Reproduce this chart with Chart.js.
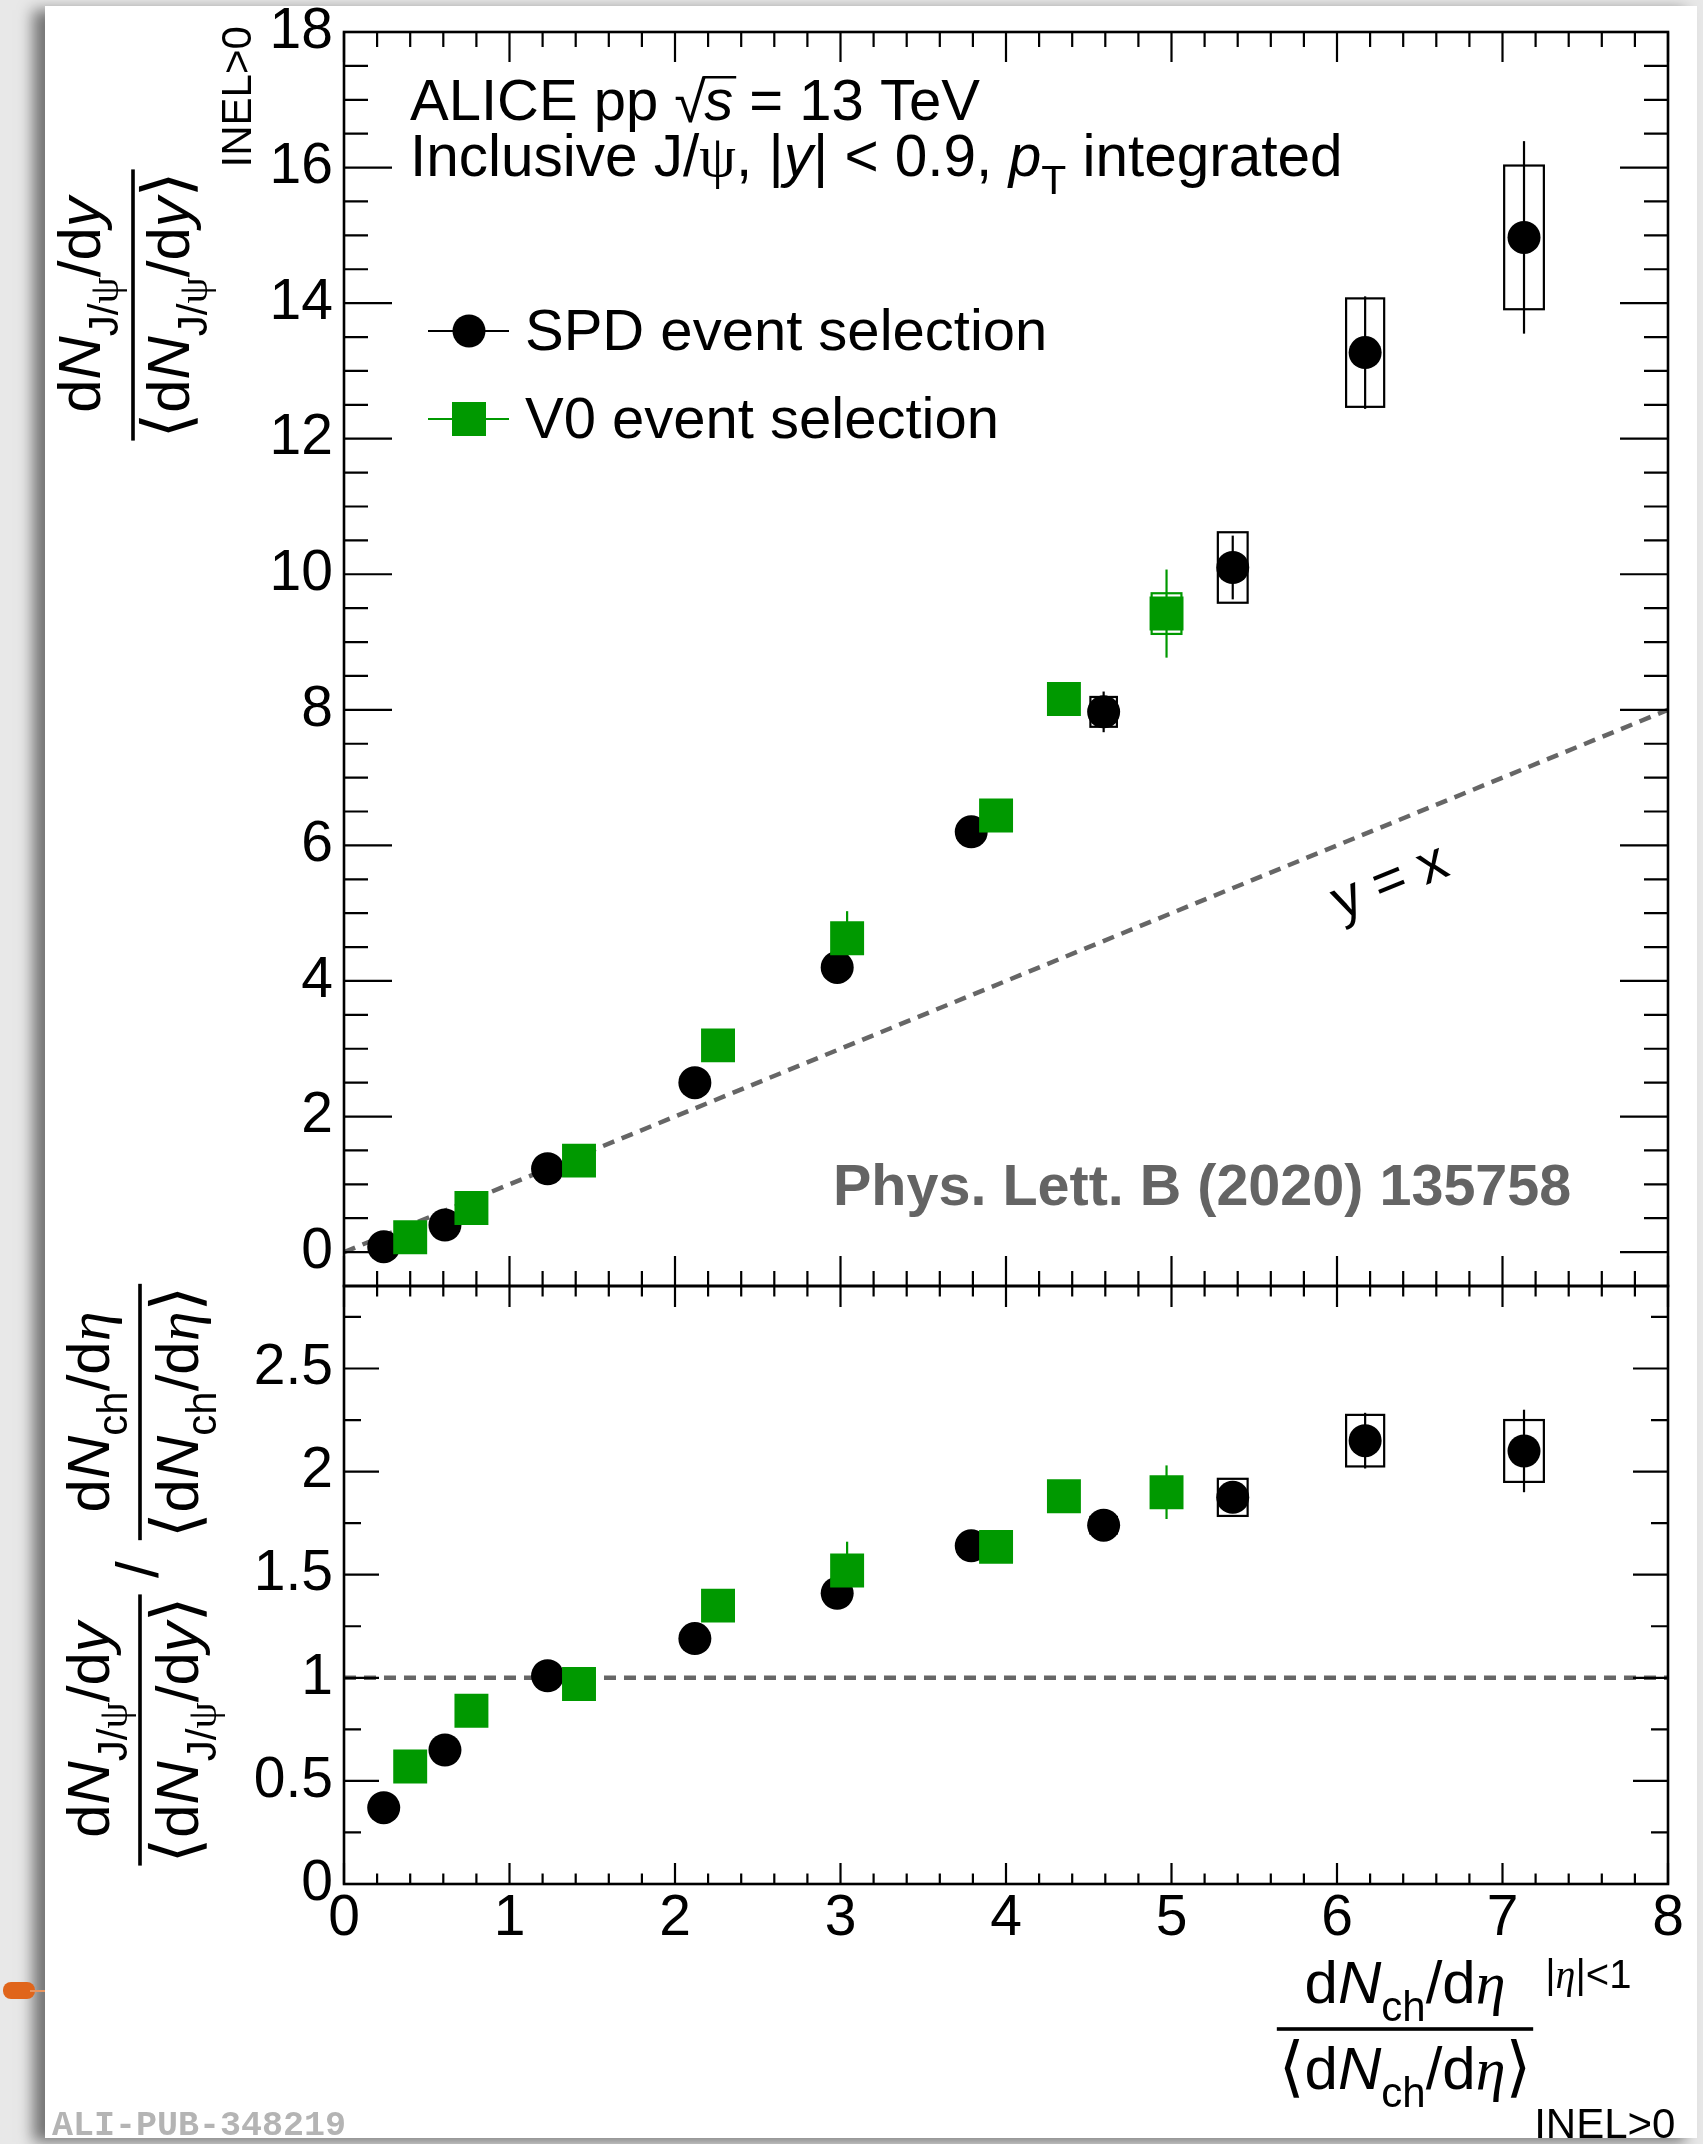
<!DOCTYPE html>
<html>
<head>
<meta charset="utf-8">
<title>ALICE J/psi vs multiplicity</title>
<script src="https://cdn.jsdelivr.net/npm/chart.js@4.4.1/dist/chart.umd.min.js"></script>
<style>
  html, body { margin: 0; padding: 0; }
  body { width: 1703px; height: 2144px; position: relative; overflow: hidden; background: #e8e8e8; }
  #card { position: absolute; left: 45px; top: 6px; width: 1652px; height: 2132px; background: #fff;
          box-shadow: -12px 4px 14px rgba(0,0,0,0.5); }
  #pin { position: absolute; left: 3px; top: 1982px; width: 32px; height: 17px; border-radius: 8px; background: #e0651b; }
  #pinLine { position: absolute; left: 30px; top: 1990px; width: 15px; height: 2px; background: #e9955f; }
  #upperCanvas { position: absolute; left: 0; top: -60px; }
  #lowerCanvas { position: absolute; left: 0; top: 1200px; }
</style>
</head>
<body>
<div id="card"></div>
<div id="pin"></div><div id="pinLine"></div>
<canvas id="upperCanvas" width="1703" height="1406"></canvas>
<canvas id="lowerCanvas" width="1703" height="944"></canvas>
<script>
// --- data ---
// x = (dNch/deta) / <dNch/deta>
const SPD_X = [0.24, 0.61, 1.23, 2.12, 2.98, 3.79, 4.59, 5.37, 6.17, 7.13];
const SPD_Y = [0.08, 0.40, 1.23, 2.50, 4.20, 6.20, 7.97, 10.10, 13.27, 14.97];
const SPD_STAT = [0.02, 0.03, 0.05, 0.08, 0.10, 0.15, 0.30, 0.47, 0.83, 1.42];
const SPD_SYST = [0.01, 0.02, 0.03, 0.05, 0.08, 0.10, 0.22, 0.52, 0.80, 1.06];
const SPD_XW = [0.04, 0.05, 0.06, 0.07, 0.08, 0.08, 0.08, 0.09, 0.115, 0.12];
const SPD_RATIO = [0.37, 0.65, 1.01, 1.19, 1.41, 1.64, 1.74, 1.875, 2.15, 2.10];
const SPD_RATIO_STAT = [0.01, 0.01, 0.02, 0.02, 0.03, 0.04, 0.05, 0.07, 0.135, 0.20];
const SPD_RATIO_SYST = [0.01, 0.01, 0.01, 0.02, 0.03, 0.03, 0.04, 0.09, 0.125, 0.15];

const V0_X = [0.40, 0.77, 1.42, 2.26, 3.04, 3.94, 4.35, 4.97];
const V0_Y = [0.22, 0.65, 1.35, 3.05, 4.63, 6.44, 8.16, 9.42];
const V0_STAT = [0.02, 0.03, 0.06, 0.12, 0.40, 0.15, 0.20, 0.65];
const V0_SYST = [0.01, 0.02, 0.03, 0.06, 0.10, 0.12, 0.20, 0.30];
const V0_XW = [0.05, 0.05, 0.06, 0.07, 0.08, 0.08, 0.09, 0.09];
const V0_RATIO = [0.57, 0.84, 0.97, 1.35, 1.52, 1.635, 1.88, 1.90];
const V0_RATIO_STAT = [0.01, 0.02, 0.02, 0.03, 0.14, 0.03, 0.04, 0.13];
const V0_RATIO_SYST = [0.01, 0.01, 0.01, 0.02, 0.03, 0.03, 0.04, 0.05];

const REF_UP_X = [0, 8];
const REF_UP_Y = [0, 8];
const REF_LOW_X = [0, 8];
const REF_LOW_Y = [1, 1];

const X_TICKS = [0, 1, 2, 3, 4, 5, 6, 7, 8];
const X_LABELS = ['0', '1', '2', '3', '4', '5', '6', '7', '8'];
const Y_UP_TICKS = [0, 2, 4, 6, 8, 10, 12, 14, 16, 18];
const Y_UP_LABELS = ['0', '2', '4', '6', '8', '10', '12', '14', '16', '18'];
const Y_LOW_TICKS = [0, 0.5, 1, 1.5, 2, 2.5];
const Y_LOW_LABELS = ['0', '0.5', '1', '1.5', '2', '2.5'];

const GREEN = '#009900';
const SANS = '"Liberation Sans", Arimo, Arial, sans-serif';
const SERIF = '"Liberation Serif", "DejaVu Serif", serif';
const BRK = '"DejaVu Sans", sans-serif';

const UP_TOP = -60;   // page offset of the upper canvas
const LOW_TOP = 1200; // page offset of the lower canvas
const TITLE = 60;     // axis title size

function pts(xs, ys) { return xs.map((x, i) => ({ x, y: ys[i] })); }

function errs(xs, ys, stat, syst, xw, color) {
    return xs.map((x, i) => ({ x, y: ys[i], stat: stat[i], syst: syst[i], xw: xw[i], color }));
}

// draws a run of styled text pieces, returns width
function runText(ctx, parts, size, x, y, draw) {
    let w = 0;
    for (const p of parts) {
        const s = size * (p.k || 1);
        ctx.font = (p.b ? 'bold ' : '') + (p.i ? 'italic ' : '') + s + 'px ' + (p.f || SANS);
        if (draw) ctx.fillText(p.t, x + w, y + (p.dy || 0) * size);
        w += ctx.measureText(p.t).width + (p.sp || 0) * size;
    }
    return w;
}

function frac(ctx, num, den, size, cx, barY, numBase, denBase) {
    const wn = runText(ctx, num, size, 0, 0, false);
    const wd = runText(ctx, den, size, 0, 0, false);
    const L = Math.max(wn, wd) + 4;
    runText(ctx, num, size, cx - wn / 2, barY + numBase, true);
    runText(ctx, den, size, cx - wd / 2, barY + denBase, true);
    ctx.fillRect(cx - L / 2, barY - 1.8, L, 3.6);
    return L;
}

const SUB = { k: 0.7, dy: 0.3 };
const NUM_JPSI = [{ t: 'd' }, { t: 'N', i: 1 }, { t: 'J/', ...SUB }, { t: 'ψ', ...SUB, f: SERIF }, { t: '/d' }, { t: 'y', i: 1 }];
const DEN_JPSI = [{ t: '⟨', f: BRK, k: 1.1 }, ...NUM_JPSI, { t: '⟩', f: BRK, k: 1.1 }];
const NUM_CH = [{ t: 'd' }, { t: 'N', i: 1 }, { t: 'ch', ...SUB }, { t: '/d' }, { t: 'η', i: 1, f: SERIF }];
const DEN_CH = [{ t: '⟨', f: BRK, k: 1.1 }, ...NUM_CH, { t: '⟩', f: BRK, k: 1.1 }];

// ROOT-like frame with inward ticks on all four sides
const rootFrame = {
    id: 'rootFrame',
    afterDatasetsDraw(chart, args, o) {
        const { ctx, chartArea: a, scales: { x, y } } = chart;
        ctx.save();
        ctx.strokeStyle = '#000';
        ctx.lineWidth = 2.2;
        ctx.beginPath();
        const nx = Math.round((x.max - x.min) / o.xMinor);
        for (let i = 0; i <= nx; i++) {
            const v = x.min + i * o.xMinor;
            const major = Math.abs(v / o.xMajor - Math.round(v / o.xMajor)) < 1e-6;
            const L = major ? o.xMajLen : o.xMinLen;
            const px = x.getPixelForValue(v);
            ctx.moveTo(px, a.bottom); ctx.lineTo(px, a.bottom - L);
            ctx.moveTo(px, a.top); ctx.lineTo(px, a.top + L);
        }
        const y0 = Math.ceil(y.min / o.yMinor - 1e-9);
        const y1 = Math.floor(y.max / o.yMinor + 1e-9);
        for (let i = y0; i <= y1; i++) {
            const v = i * o.yMinor;
            const major = Math.abs(v / o.yMajor - Math.round(v / o.yMajor)) < 1e-6;
            const L = major ? o.yMajLen : o.yMinLen;
            const py = y.getPixelForValue(v);
            ctx.moveTo(a.left, py); ctx.lineTo(a.left + L, py);
            ctx.moveTo(a.right, py); ctx.lineTo(a.right - L, py);
        }
        ctx.stroke();
        ctx.lineWidth = 2.6;
        ctx.strokeRect(a.left, a.top, a.right - a.left, a.bottom - a.top);
        ctx.restore();
    }
};

// syst boxes and stat bars, drawn under the markers
const errorBars = {
    id: 'errorBars',
    beforeDatasetsDraw(chart, args, o) {
        const { ctx, scales: { x, y } } = chart;
        ctx.save();
        for (const p of o.points) {
            const px = x.getPixelForValue(p.x);
            ctx.strokeStyle = p.color;
            ctx.lineWidth = 2.2;
            const bx0 = x.getPixelForValue(p.x - p.xw), bx1 = x.getPixelForValue(p.x + p.xw);
            const by0 = y.getPixelForValue(p.y + p.syst), by1 = y.getPixelForValue(p.y - p.syst);
            ctx.strokeRect(bx0, by0, bx1 - bx0, by1 - by0);
            ctx.beginPath();
            ctx.moveTo(px, y.getPixelForValue(p.y + p.stat));
            ctx.lineTo(px, y.getPixelForValue(p.y - p.stat));
            ctx.stroke();
        }
        ctx.restore();
    }
};

const upperText = {
    id: 'upperText',
    afterDraw(chart) {
        const { ctx, scales: { x, y } } = chart;
        ctx.save();
        ctx.translate(0, -UP_TOP);
        ctx.fillStyle = '#000';
        ctx.strokeStyle = '#000';
        ctx.textBaseline = 'alphabetic';
        ctx.textAlign = 'left';

        // header
        let cx = 410;
        cx += runText(ctx, [{ t: 'ALICE pp ' }], 58, cx, 120, true);
        ctx.font = '58px ' + SANS;
        ctx.fillText('√', cx, 122);
        const m = ctx.measureText('√');
        const topY = 122 - m.actualBoundingBoxAscent;
        cx += m.width - 2;
        const sw = runText(ctx, [{ t: 's', i: 1 }], 58, cx, 120, true);
        ctx.lineWidth = 2.5;
        ctx.beginPath(); ctx.moveTo(cx - 1, topY + 1.2); ctx.lineTo(cx + sw + 3, topY + 1.2); ctx.stroke();
        cx += sw;
        runText(ctx, [{ t: ' = 13 TeV' }], 58, cx, 120, true);

        runText(ctx, [{ t: 'Inclusive J/' }, { t: 'ψ', f: SERIF }, { t: ', |' }, { t: 'y', i: 1 }, { t: '| < 0.9, ' },
            { t: 'p', i: 1 }, { t: 'T', k: 0.7, dy: 0.3 }, { t: ' integrated' }], 58.5, 410, 176, true);

        // legend
        ctx.lineWidth = 2.2;
        ctx.beginPath(); ctx.moveTo(428, 331); ctx.lineTo(509, 331); ctx.stroke();
        ctx.beginPath(); ctx.arc(469, 331, 16.5, 0, Math.PI * 2); ctx.fill();
        ctx.strokeStyle = GREEN; ctx.fillStyle = GREEN;
        ctx.beginPath(); ctx.moveTo(428, 419); ctx.lineTo(509, 419); ctx.stroke();
        ctx.fillRect(469 - 17, 419 - 17, 34, 34);
        ctx.fillStyle = '#000';
        runText(ctx, [{ t: 'SPD event selection' }], 58, 525, 350, true);
        runText(ctx, [{ t: 'V0 event selection' }], 58, 525, 438, true);

        // reference
        ctx.fillStyle = '#646464';
        runText(ctx, [{ t: 'Phys. Lett. B (2020) 135758', b: 1 }], 57.5, 833, 1205, true);

        // y = x label, along the dashed line
        const ang = Math.atan2(y.getPixelForValue(8) - y.getPixelForValue(0), x.getPixelForValue(8) - x.getPixelForValue(0));
        ctx.fillStyle = '#000';
        ctx.save();
        ctx.translate(1390, 883);
        ctx.rotate(ang);
        ctx.textAlign = 'center';
        ctx.textBaseline = 'middle';
        ctx.font = '56px ' + SANS;
        ctx.fillText('y = x', 0, 0);
        ctx.restore();

        // y title (rotated)
        ctx.save();
        ctx.translate(133, 305);
        ctx.rotate(-Math.PI / 2);
        const L = frac(ctx, NUM_JPSI, DEN_JPSI, TITLE, 0, 0, -33, 56);
        runText(ctx, [{ t: 'INEL>0' }], 42, L / 2 + 2, 118, true);
        ctx.restore();
        ctx.restore();
    }
};

const lowerText = {
    id: 'lowerText',
    afterDraw(chart) {
        const { ctx } = chart;
        ctx.save();
        ctx.translate(0, -LOW_TOP);
        ctx.fillStyle = '#000';
        ctx.textAlign = 'left';
        ctx.textBaseline = 'alphabetic';

        // y title: (J/psi ratio) / (Nch ratio)
        ctx.save();
        ctx.translate(140, 1578);
        ctx.rotate(-Math.PI / 2);
        frac(ctx, NUM_JPSI, DEN_JPSI, TITLE, -152, 0, -31, 58);
        runText(ctx, [{ t: '/' }], TITLE, 0, 18, true);
        frac(ctx, NUM_CH, DEN_CH, TITLE, 166, 0, -31, 58);
        ctx.restore();

        // x title
        const L = frac(ctx, NUM_CH, DEN_CH, TITLE, 1405, 2029, -26, 60);
        runText(ctx, [{ t: '|' }, { t: 'η', i: 1, f: SERIF }, { t: '|<1' }], 40, 1405 + L / 2 + 12, 1988, true);
        runText(ctx, [{ t: 'INEL>0' }], 42, 1405 + L / 2 + 1, 2138, true);

        // publication id
        ctx.fillStyle = '#b4b4b4';
        ctx.font = 'bold 35px "Liberation Mono", monospace';
        ctx.fillText('ALI-PUB-348219', 52, 2135);
        ctx.restore();
    }
};

function tickCallback(ticks, labels) {
    return (v) => { const i = ticks.indexOf(v); return i >= 0 ? labels[i] : ''; };
}

const tickFont = { family: SANS, size: 57 };

new Chart(document.getElementById('upperCanvas'), {
    type: 'scatter',
    data: {
        datasets: [
            { label: 'V0 event selection', data: pts(V0_X, V0_Y), order: 0,
              pointStyle: 'rect', pointRadius: 24, backgroundColor: GREEN, borderColor: GREEN, borderWidth: 0 },
            { label: 'SPD event selection', data: pts(SPD_X, SPD_Y), order: 1,
              pointStyle: 'circle', pointRadius: 16.5, backgroundColor: '#000', borderColor: '#000', borderWidth: 0 },
            { type: 'line', label: 'y = x', data: pts(REF_UP_X, REF_UP_Y), order: 2, showLine: true,
              borderColor: '#666666', borderWidth: 4.5, borderDash: [12, 8], pointRadius: 0, fill: false }
        ]
    },
    options: {
        responsive: false, animation: false, devicePixelRatio: 1,
        layout: { padding: { left: 0, right: 35, top: 92, bottom: 60 }, autoPadding: false },
        plugins: {
            legend: { display: false }, tooltip: { enabled: false },
            rootFrame: { xMajor: 1, xMinor: 0.2, xMajLen: 30, xMinLen: 15, yMajor: 2, yMinor: 0.5, yMajLen: 48, yMinLen: 24 },
            errorBars: { points: [...errs(SPD_X, SPD_Y, SPD_STAT, SPD_SYST, SPD_XW, '#000'),
                                  ...errs(V0_X, V0_Y, V0_STAT, V0_SYST, V0_XW, GREEN)] }
        },
        scales: {
            x: { type: 'linear', min: 0, max: 8, display: false },
            y: {
                type: 'linear', min: -0.5, max: 18,
                afterFit: (s) => { s.width = 344; },
                afterBuildTicks: (s) => { s.ticks = Y_UP_TICKS.map(v => ({ value: v })); },
                grid: { display: false, drawTicks: false, tickLength: 0 },
                border: { display: false },
                ticks: { font: tickFont, color: '#000', padding: 11, callback: tickCallback(Y_UP_TICKS, Y_UP_LABELS) }
            }
        }
    },
    plugins: [errorBars, rootFrame, upperText]
});

new Chart(document.getElementById('lowerCanvas'), {
    type: 'scatter',
    data: {
        datasets: [
            { label: 'V0 event selection', data: pts(V0_X, V0_RATIO), order: 0,
              pointStyle: 'rect', pointRadius: 24, backgroundColor: GREEN, borderColor: GREEN, borderWidth: 0 },
            { label: 'SPD event selection', data: pts(SPD_X, SPD_RATIO), order: 1,
              pointStyle: 'circle', pointRadius: 16.5, backgroundColor: '#000', borderColor: '#000', borderWidth: 0 },
            { type: 'line', label: 'unity', data: pts(REF_LOW_X, REF_LOW_Y), order: 2, showLine: true,
              borderColor: '#666666', borderWidth: 4.5, borderDash: [12, 8], pointRadius: 0, fill: false }
        ]
    },
    options: {
        responsive: false, animation: false, devicePixelRatio: 1,
        layout: { padding: { left: 0, right: 35, top: 86, bottom: 160 }, autoPadding: false },
        plugins: {
            legend: { display: false }, tooltip: { enabled: false },
            rootFrame: { xMajor: 1, xMinor: 0.2, xMajLen: 21, xMinLen: 10.5, yMajor: 0.5, yMinor: 0.25, yMajLen: 35, yMinLen: 17 },
            errorBars: { points: [...errs(SPD_X, SPD_RATIO, SPD_RATIO_STAT, SPD_RATIO_SYST, SPD_XW, '#000'),
                                  ...errs(V0_X, V0_RATIO, V0_RATIO_STAT, V0_RATIO_SYST, V0_XW, GREEN)] }
        },
        scales: {
            x: {
                type: 'linear', min: 0, max: 8,
                afterFit: (s) => { s.height = 100; },
                afterBuildTicks: (s) => { s.ticks = X_TICKS.map(v => ({ value: v })); },
                grid: { display: false, drawTicks: false, tickLength: 0 },
                border: { display: false },
                ticks: { font: tickFont, color: '#000', padding: 1, maxRotation: 0, autoSkip: false,
                         callback: tickCallback(X_TICKS, X_LABELS) }
            },
            y: {
                type: 'linear', min: 0, max: 2.9,
                afterFit: (s) => { s.width = 344; },
                afterBuildTicks: (s) => { s.ticks = Y_LOW_TICKS.map(v => ({ value: v })); },
                grid: { display: false, drawTicks: false, tickLength: 0 },
                border: { display: false },
                ticks: { font: tickFont, color: '#000', padding: 11, callback: tickCallback(Y_LOW_TICKS, Y_LOW_LABELS) }
            }
        }
    },
    plugins: [errorBars, rootFrame, lowerText]
});
</script>
</body>
</html>
